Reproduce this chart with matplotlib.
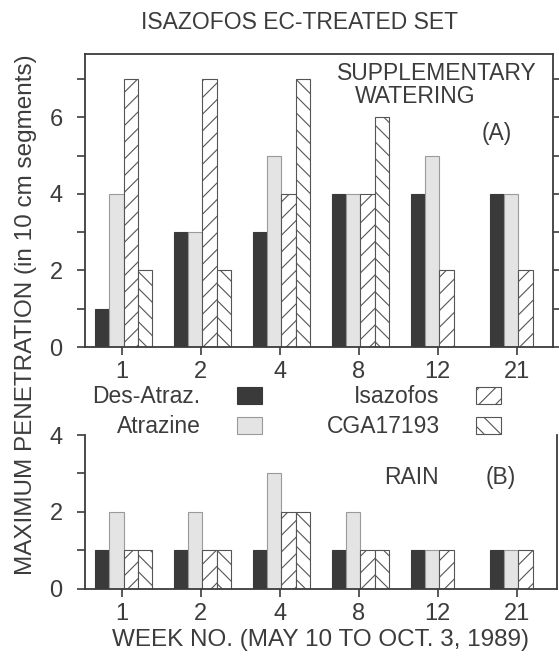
import numpy as np
from matplotlib import pyplot as plt

weeks = ['1', '2', '4', '8', '12', '21']
series = ['Des-Atraz.', 'Atrazine', 'Isazofos', 'CGA17193']

# (A) supplementary watering
des_a = [1, 3, 3, 4, 4, 4]
atr_a = [4, 3, 5, 4, 5, 4]
isa_a = [7, 7, 4, 4, 2, 2]
cga_a = [2, 2, 7, 6, 0, 0]

# (B) rain
des_b = [1, 1, 1, 1, 1, 1]
atr_b = [2, 2, 3, 2, 1, 1]
isa_b = [1, 1, 2, 1, 1, 1]
cga_b = [1, 1, 2, 1, 0, 0]

ink = '#3c3c3c'
plt.rcParams['font.family'] = ['Liberation Sans', 'DejaVu Sans']
plt.rcParams['text.color'] = ink
plt.rcParams['axes.labelcolor'] = ink
plt.rcParams['axes.edgecolor'] = ink
plt.rcParams['xtick.color'] = ink
plt.rcParams['ytick.color'] = ink
plt.rcParams['hatch.linewidth'] = 0.8
plt.rcParams['hatch.color'] = '#555555'

styles = [
    dict(color='#3a3a3a', edgecolor='#3a3a3a'),
    dict(color='#e4e4e4', edgecolor='#9a9a9a'),
    dict(color='white', edgecolor='#555555', hatch='//'),
    dict(color='white', edgecolor='#555555', hatch='\\\\'),
]

fig = plt.figure(figsize=(5.59, 6.58), dpi=100)
ax1 = fig.add_axes([0.152, 0.4726, 0.837, 0.4453])
ax2 = fig.add_axes([0.152, 0.1049, 0.844, 0.234])

x = np.arange(len(weeks))
w = 0.18
offs = [-1.5 * w, -0.5 * w, 0.5 * w, 1.5 * w]

def draw(ax, data):
    bars = []
    for vals, off, st, name in zip(data, offs, styles, series):
        b = ax.bar(x + off + 0.02, vals, w, linewidth=0.8, label=name, **st)
        bars.append(b)
    ax.set_xticks(x)
    ax.set_xticklabels(weeks)
    for s in ax.spines.values():
        s.set_linewidth(1.3)
    ax.tick_params(axis='both', labelsize=17, direction='out', length=6, width=1.2)
    ax.tick_params(axis='x', pad=4)
    ax.tick_params(axis='y', pad=10)
    return bars

bars = draw(ax1, [des_a, atr_a, isa_a, cga_a])
draw(ax2, [des_b, atr_b, isa_b, cga_b])

ax1.set_xlim(-0.468, 5.456)
ax1.set_ylim(0, 7.65)
ax1.set_yticks(range(0, 8))
ax1.set_yticklabels(['0', '', '2', '', '4', '', '6', ''])
ax1.tick_params(axis='y', right=True)

ax2.set_xlim(-0.468, 5.506)
ax2.set_ylim(0, 4)
ax2.set_yticks(range(0, 5))
ax2.set_yticklabels(['0', '', '2', '', '4'])
ax2.spines['top'].set_visible(False)
ax2.set_xlabel('WEEK NO. (MAY 10 TO OCT. 3, 1989)', fontsize=17.5, labelpad=3)

ax1.text(0.752, 0.933, 'SUPPLEMENTARY', transform=ax1.transAxes, ha='center', va='center', fontsize=16.5)
ax1.text(0.705, 0.855, 'WATERING', transform=ax1.transAxes, ha='center', va='center', fontsize=16.5)
ax1.text(0.880, 0.730, '(A)', transform=ax1.transAxes, ha='center', va='center', fontsize=16.5)
ax2.text(0.693, 0.727, 'RAIN', transform=ax2.transAxes, ha='center', va='center', fontsize=16.5)
ax2.text(0.881, 0.727, '(B)', transform=ax2.transAxes, ha='center', va='center', fontsize=16.5)

fig.text(0.535, 0.966, 'ISAZOFOS EC-TREATED SET', ha='center', va='center', fontsize=16.5)
fig.text(0.047, 0.521, 'MAXIMUM PENETRATION (in 10 cm segments)', rotation=90,
         ha='center', va='center', fontsize=17.5)

fig.legend(handles=bars, labels=series, ncol=2, markerfirst=False, frameon=False,
           loc='center', bbox_to_anchor=(0.531, 0.374), fontsize=16.5,
           handlelength=1.1, handleheight=0.8, handletextpad=1.6,
           columnspacing=2.8, labelspacing=0.3, borderpad=0)

plt.savefig('out.png', dpi=100)
